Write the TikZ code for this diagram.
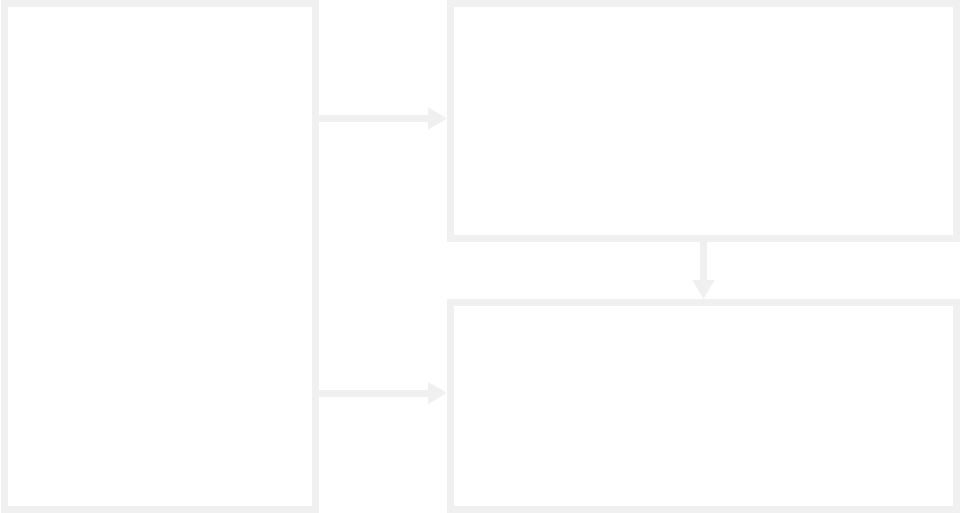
\documentclass[tikz,border=0pt]{standalone}
\usepackage{xcolor}
\usepackage{tikz}
\usetikzlibrary{positioning,arrows.meta}
\definecolor{boxgray}{RGB}{240,240,240}

\begin{document}
\begin{tikzpicture}[x=1pt,y=-1pt,>={Triangle[length=19pt,width=21pt]},
		block/.style={draw=boxgray,line width=7pt,fill=white,inner sep=0pt,rectangle},
		link/.style={->,draw=boxgray,line width=7pt}]
			\useasboundingbox (0,0) rectangle (960,512);
			\node[block,minimum width=311pt,minimum height=505.5pt] (src) at (160,256.25) {};
			\node[block,minimum width=506pt,minimum height=234.5pt] (upper) at (703.5,120.75) {};
			\node[block,minimum width=506pt,minimum height=206.5pt] (lower) at (703.5,405.75) {};
			\coordinate (a1) at (0,118.5);
			\coordinate (a2) at (0,393);

			\draw[link] (src.east |- a1) -- (upper.west |- a1);
			\draw[link] (src.east |- a2) -- (lower.west |- a2);
			\draw[link] (upper.south) -- (lower.north);
			\end{tikzpicture}
\end{document}
